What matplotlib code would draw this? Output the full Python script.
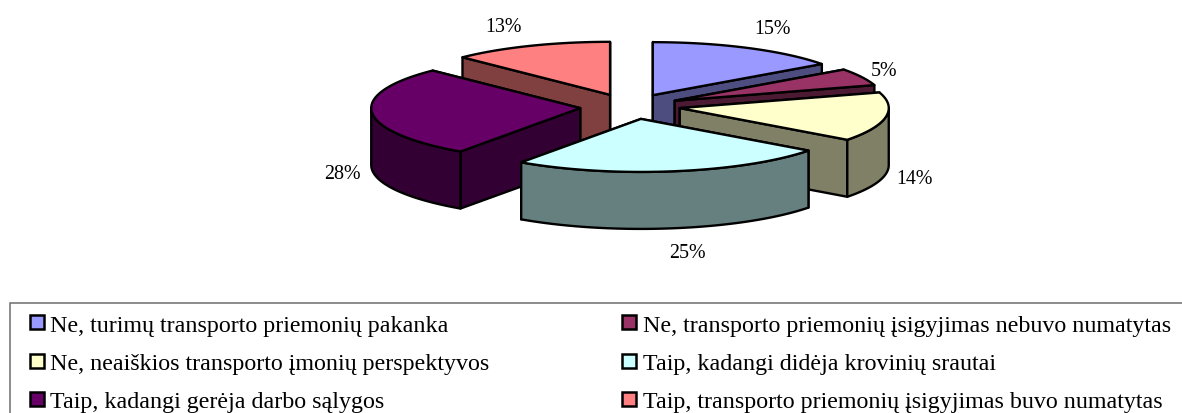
import numpy as np
import matplotlib
matplotlib.use("Agg")
import matplotlib.pyplot as plt
from matplotlib.patches import Polygon, Rectangle

categories = ["Ne, turimų transporto priemonių pakanka",
              "Ne, transporto priemonių įsigyjimas nebuvo numatytas",
              "Ne, neaiškios transporto įmonių perspektyvos",
              "Taip, kadangi didėja krovinių srautai",
              "Taip, kadangi gerėja darbo sąlygos",
              "Taip, transporto priemonių įsigyjimas buvo numatytas"]
values = [15, 5, 14, 25, 28, 13]
top_colors = ["#9999FF", "#993366", "#FFFFCC", "#CCFFFF", "#660066", "#FF8080"]
side_colors = ["#4D4D80", "#4D1A33", "#808066", "#668080", "#330033", "#804040"]
draw_order = [5, 0, 1, 2, 4, 3]
label_pos = [(772, 28), (884, 69), (914, 178), (687, 252), (342, 173), (503, 26)]

W, H = 1182, 414
CX, CY, A, B, DEPTH, EXPLODE = 630, 107.5, 209, 53, 57, 0.24
LW = 1.7
FS = 14.4
LEGEND_FS = 17.3
FONT = "Liberation Serif"
# small view correction of the apparent angle (perspective of the 3D pie), degrees
WARP_AT = np.radians([0, 60, 125, 215, 310, 360])
WARP_BY = np.radians([0, 0, 4.5, 2.5, 2, 0])

fig = plt.figure(figsize=(W / 100, H / 100), dpi=100)
ax = fig.add_axes([0, 0, 1, 1])
ax.set_xlim(0, W)
ax.set_ylim(H, 0)
ax.axis("off")

fracs = np.array(values) / sum(values) * 2 * np.pi
ends = np.cumsum(fracs)
starts = ends - fracs


def warp(t):
    return t + np.interp(t, WARP_AT, WARP_BY)


def rim(x0, y0, t):
    return np.column_stack([x0 + A * np.sin(t), y0 - B * np.cos(t)])


def face(pts, color, z):
    ax.add_patch(Polygon(pts, closed=True, facecolor=color, edgecolor="black",
                         linewidth=LW, joinstyle="round", zorder=z))


z = 1.0
for i in draw_order:
    mid = (starts[i] + ends[i]) / 2
    s, e = warp(starts[i]), warp(ends[i])
    x0 = CX + EXPLODE * A * np.sin(mid)
    y0 = CY - EXPLODE * B * np.cos(mid)
    down = np.array([0, DEPTH])
    apex = np.array([x0, y0])
    # radial walls, back one first
    walls = sorted([s, e], key=lambda t: -np.cos(t))
    for t in walls:
        p = rim(x0, y0, np.array([t]))[0]
        face([apex, p, p + down, apex + down], side_colors[i], z)
        z += 0.01
    # outer wall, front half only
    a0, a1 = max(s, np.pi / 2), min(e, 3 * np.pi / 2)
    if a1 > a0:
        arc = rim(x0, y0, np.linspace(a0, a1, 80))
        face(np.vstack([arc, (arc + down)[::-1]]), side_colors[i], z)
        z += 0.01
    # top
    arc = rim(x0, y0, np.linspace(s, e, 120))
    face(np.vstack([apex, arc]), top_colors[i], z)
    z += 0.01

for v, (x, y) in zip(values, label_pos):
    ax.text(x, y + 2, f"{v}%", ha="center", va="center", family=FONT, fontsize=FS, color="black", zorder=50)

# legend
ax.add_patch(Rectangle((9.5, 303.5), W, 200, facecolor="white", edgecolor="#6E6E6E",
                       linewidth=1.1, zorder=40))
swatch_x = [29.5, 621.5]
text_x = [50, 643]
swatch_y = [323, 362, 400.5]
base_y = [332, 370.5, 408.5]
for k, name in enumerate(categories):
    c, r = k % 2, k // 2
    ax.add_patch(Rectangle((swatch_x[c], swatch_y[r] - 7), 14, 14, facecolor=top_colors[k],
                           edgecolor="black", linewidth=1.8, zorder=51))
    ax.text(text_x[c], base_y[r], name, ha="left", va="baseline", family=FONT, fontsize=LEGEND_FS,
            color="black", zorder=51)

fig.savefig("out.png", dpi=100)
